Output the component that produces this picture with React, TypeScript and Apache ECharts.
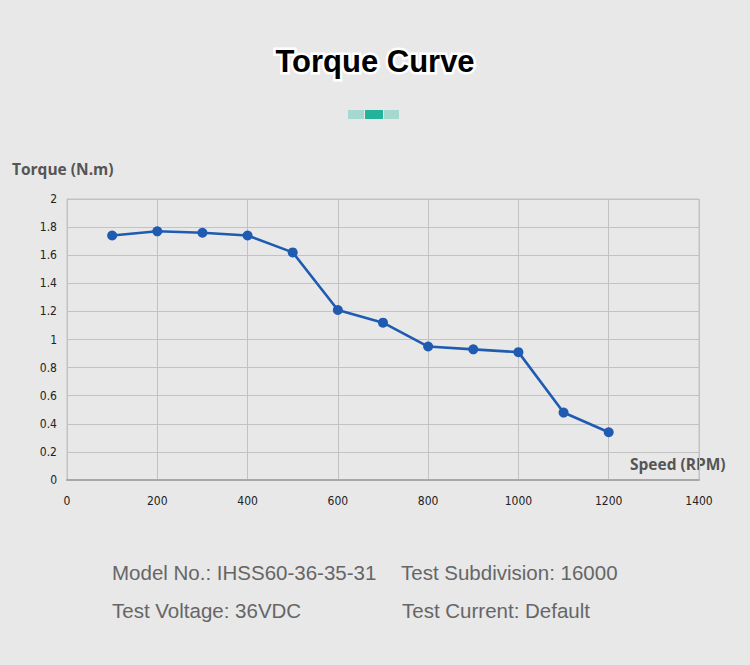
import React, { useEffect, useRef } from "react";
import * as echarts from "echarts";

const speeds = [100, 200, 300, 400, 500, 600, 700, 800, 900, 1000, 1100, 1200];
const torques = [1.74, 1.77, 1.76, 1.74, 1.62, 1.21, 1.12, 0.95, 0.93, 0.91, 0.48, 0.34];
const titleText = "Torque Curve";
const yAxisName = "Torque (N.m)";
const xAxisName = "Speed (RPM)";
const infoLines = [
  ["Model No.: IHSS60-36-35-31", "Test Subdivision: 16000"],
  ["Test Voltage: 36VDC", "Test Current: Default"],
];

export default function App() {
  const ref = useRef<HTMLDivElement>(null);
  useEffect(() => {
    if (!ref.current) return;
    const chart = echarts.init(ref.current, null, { renderer: "svg" });
    const gridCol = "#c2c2c2";
    const tickFont = "DejaVu Sans Condensed, Liberation Sans Narrow, sans-serif";
    const infoFont = "Liberation Sans, Arial, sans-serif";
    chart.setOption({
      animation: false,
      backgroundColor: "#e8e8e8",
      grid: { left: 67, top: 199, right: 51, bottom: 185, show: true, borderColor: gridCol, borderWidth: 1 },
      xAxis: {
        type: "value",
        min: 0,
        max: 1400,
        interval: 200,
        axisLine: { show: true, lineStyle: { color: "#a8a8a8", width: 2 } },
        axisTick: { show: false },
        axisLabel: { color: "#222", fontSize: 12, margin: 15, fontFamily: tickFont, formatter: (v: number) => String(v) },
        splitLine: { show: true, lineStyle: { color: gridCol, width: 1 } },
      },
      yAxis: {
        type: "value",
        min: 0,
        max: 2,
        interval: 0.2,
        axisLine: { show: true, lineStyle: { color: gridCol, width: 1 } },
        axisTick: { show: false },
        axisLabel: {
          color: "#222",
          fontSize: 12,
          margin: 10,
          fontFamily: tickFont,
          formatter: (v: number) => String(Math.round(v * 10) / 10),
        },
        splitLine: { show: true, lineStyle: { color: gridCol, width: 1 } },
      },
      series: [
        {
          type: "line",
          data: speeds.map((s, i) => [s, torques[i]]),
          symbol: "circle",
          symbolSize: 10,
          lineStyle: { color: "#1f5bb0", width: 2.6 },
          itemStyle: { color: "#1f5bb0" },
        },
      ],
      graphic: [
        {
          type: "text",
          left: "center",
          top: 43,
          style: {
            text: titleText,
            fontSize: 31,
            fontWeight: "bold",
            fontFamily: "Liberation Sans, Arial, sans-serif",
            fill: "#000",
            stroke: "#fff",
            lineWidth: 5,
            shadowColor: "#000",
            shadowBlur: 4,
          },
        },
        { type: "rect", shape: { x: 348, y: 110, width: 16, height: 9 }, style: { fill: "#a5d9cf" } },
        { type: "rect", shape: { x: 365, y: 110, width: 18, height: 9 }, style: { fill: "#22b39a" } },
        { type: "rect", shape: { x: 384, y: 110, width: 15, height: 9 }, style: { fill: "#a5d9cf" } },
        {
          type: "text",
          x: 12,
          y: 161,
          style: { text: yAxisName, fontSize: 15.5, fontWeight: "bold", fill: "#555", fontFamily: "Open Sans, DejaVu Sans, sans-serif" },
        },
        {
          type: "text",
          x: 630,
          y: 456,
          style: { text: xAxisName, fontSize: 15.5, fontWeight: "bold", fill: "#555", fontFamily: "Open Sans, DejaVu Sans, sans-serif" },
        },
        { type: "text", x: 112, y: 562, style: { text: infoLines[0][0], fontSize: 20.5, fill: "#666", fontFamily: infoFont } },
        { type: "text", x: 401, y: 562, style: { text: infoLines[0][1], fontSize: 20.5, fill: "#666", fontFamily: infoFont } },
        { type: "text", x: 112, y: 600, style: { text: infoLines[1][0], fontSize: 20.5, fill: "#666", fontFamily: infoFont } },
        { type: "text", x: 402, y: 600, style: { text: infoLines[1][1], fontSize: 20.5, fill: "#666", fontFamily: infoFont } },
      ],
    });
    return () => chart.dispose();
  }, []);
  return <div ref={ref} style={{ position: "fixed", left: 0, top: 0, width: 750, height: 665 }} />;
}
